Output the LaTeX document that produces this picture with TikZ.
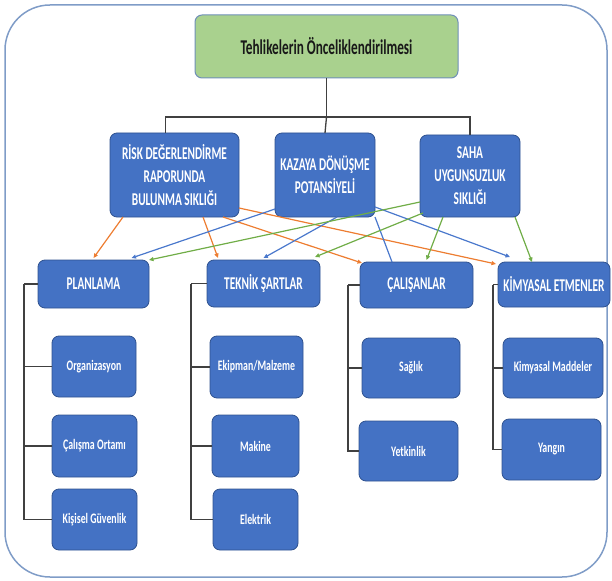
\documentclass[tikz,border=0pt]{standalone}
\usepackage{fontspec}
\newfontfamily\cfa{Carlito}[FakeStretch=0.63]
\newfontfamily\cfb{Carlito}[FakeStretch=0.68]
\usetikzlibrary{arrows.meta}
\definecolor{boxblue}{HTML}{4472C4}
\definecolor{boxedge}{HTML}{2F528F}
\definecolor{titlegreen}{HTML}{A9D18E}
\definecolor{titleedge}{HTML}{6F8FB8}
\definecolor{frameblue}{HTML}{7F9CC7}
\definecolor{treegrey}{HTML}{404040}
\definecolor{arrorange}{HTML}{ED7D31}
\definecolor{arrblue}{HTML}{4A78CC}
\definecolor{arrgreen}{HTML}{70AD47}
\begin{document}
\begin{tikzpicture}[x=1pt,y=-1pt,
  sz/.style 2 args={minimum width=#1pt, minimum height=#2pt},
  bluebox/.style={draw=boxedge, line width=0.8pt, fill=boxblue, rounded corners=7pt,
    text=white, inner sep=0pt, outer sep=0pt, align=center},
  lvtwo/.style={bluebox, font=\cfa\bfseries\fontsize{18}{23}\selectfont},
  lvthree/.style={bluebox, font=\cfa\bfseries\fontsize{18}{22}\selectfont},
  lvfour/.style={bluebox, font=\cfb\bfseries\fontsize{14.5}{17}\selectfont},
  titlebox/.style={draw=titleedge, line width=1pt, fill=titlegreen, rounded corners=7pt,
    text=black!90, inner sep=0pt, outer sep=0pt, font=\cfa\bfseries\fontsize{21}{25}\selectfont},
  tree/.style={draw=treegrey, line width=1.3pt},
  link/.style={line width=1.2pt, -{Triangle[length=4.5pt,width=4pt]}},
  plainlink/.style={line width=1.2pt}
]
\useasboundingbox (0,0) rectangle (612,580);
\draw[frameblue, line width=1.5pt, rounded corners=45pt] (5,5) rectangle (607,577);

% title
\node[titlebox, sz={263}{63}] (t) at (326.5,46.5) {Tehlikelerin Önceliklendirilmesi};

% level 2
\node[lvtwo, sz={129}{84}] (r1) at (174.5,175) {RİSK DEĞERLENDİRME\\RAPORUNDA\\BULUNMA SIKLIĞI};
\node[lvtwo, sz={100}{84}] (r2) at (325,175) {KAZAYA DÖNÜŞME\\POTANSİYELİ};
\node[lvtwo, sz={100}{82}] (r3) at (470,176) {SAHA\\UYGUNSUZLUK\\SIKLIĞI};

% level 3
\node[lvthree, sz={111}{48}] (p) at (93.5,284) {PLANLAMA};
\node[lvthree, sz={113}{47}] (tk) at (263.5,283.5) {TEKNİK ŞARTLAR};
\node[lvthree, sz={113}{46}] (c) at (416.5,285) {ÇALIŞANLAR};
\node[lvthree, sz={112}{45}] (km) at (554,284.5) {KİMYASAL ETMENLER};

% level 4
\node[lvfour, sz={84}{61}] (o1) at (94,366.5) {Organizasyon};
\node[lvfour, sz={85}{62}] (o2) at (94.5,446) {Çalışma Ortamı};
\node[lvfour, sz={85}{61}] (o3) at (94.5,519.5) {Kişisel Güvenlik};
\node[lvfour, sz={93}{62}] (e1) at (256.5,367) {Ekipman/Malzeme};
\node[lvfour, sz={87}{62}] (e2) at (255.5,446) {Makine};
\node[lvfour, sz={85}{61}] (e3) at (255.5,519.5) {Elektrik};
\node[lvfour, sz={98}{60}] (s1) at (411,368) {Sağlık};
\node[lvfour, sz={99}{60}] (s2) at (408.5,451) {Yetkinlik};
\node[lvfour, sz={100}{60}] (k1) at (553,368) {Kimyasal Maddeler};
\node[lvfour, sz={99}{61}] (k2) at (551.5,449.5) {Yangın};

% top tree
\draw[tree] (t.south) -- ++(0,39) coordinate (j);
\coordinate (r1top) at ([xshift=-9pt]r1.north);
\draw[tree] (r1top) -- (r1top |- j) -- (r3.north |- j) -- (r3.north);
\draw[tree] (j) -- (r2.north);

% lower trees
\draw[tree] (p.west) -- ++(-14,0) coordinate (pv);
\foreach \n in {o1,o2,o3} \draw[tree] (pv) |- (\n.west);
\draw[tree] (tk.west) -- ++(-16,0) coordinate (tv);
\foreach \n in {e1,e2,e3} \draw[tree] (tv) |- (\n.west);
\draw[tree] (c.west) -- ++(-12,0) coordinate (cv);
\foreach \n in {s1,s2} \draw[tree] (cv) |- (\n.west);
\draw[tree] (km.west) -- ++(-5,0) coordinate (kv);
\foreach \n in {k1,k2} \draw[tree] (kv) |- (\n.west);

% orange links
\draw[link, arrorange] ([xshift=13pt]r1.south west) -- ([yshift=2pt]p.north);
\draw[link, arrorange] ([xshift=93pt]r1.south west) -- ([xshift=11pt,yshift=2pt]tk.north west);
\draw[link, arrorange] ([xshift=113pt]r1.south west) -- ([xshift=2pt,yshift=-1pt]c.north west);
\draw[link, arrorange] ([yshift=9pt]r1.south east) -- ([xshift=-2pt,yshift=-2pt]km.north west);

% blue links
\draw[link, arrblue] ([yshift=8pt]r2.south west) -- ([xshift=38pt,yshift=2pt]p.north);
\draw[link, arrblue] ([xshift=12pt]r2.south) -- ([yshift=2pt]tk.north);
\draw[plainlink, arrblue] (r2.south east) -- ([xshift=32pt]c.north west);
\draw[link, arrblue] ([yshift=10pt]r2.south east) -- ([xshift=12pt,yshift=5pt]km.north west);

% green links
\draw[link, arrgreen] ([yshift=15pt]r3.south west) -- (p.north east);
\draw[link, arrgreen] ([xshift=3pt,yshift=4pt]r3.south west) -- ([xshift=-5pt,yshift=3pt]tk.north east);
\draw[link, arrgreen] ([xshift=23pt]r3.south west) -- ([xshift=10pt,yshift=2pt]c.north);
\draw[link, arrgreen] ([xshift=-5pt]r3.south east) -- ([xshift=34pt]km.north west);
\end{tikzpicture}
\end{document}
